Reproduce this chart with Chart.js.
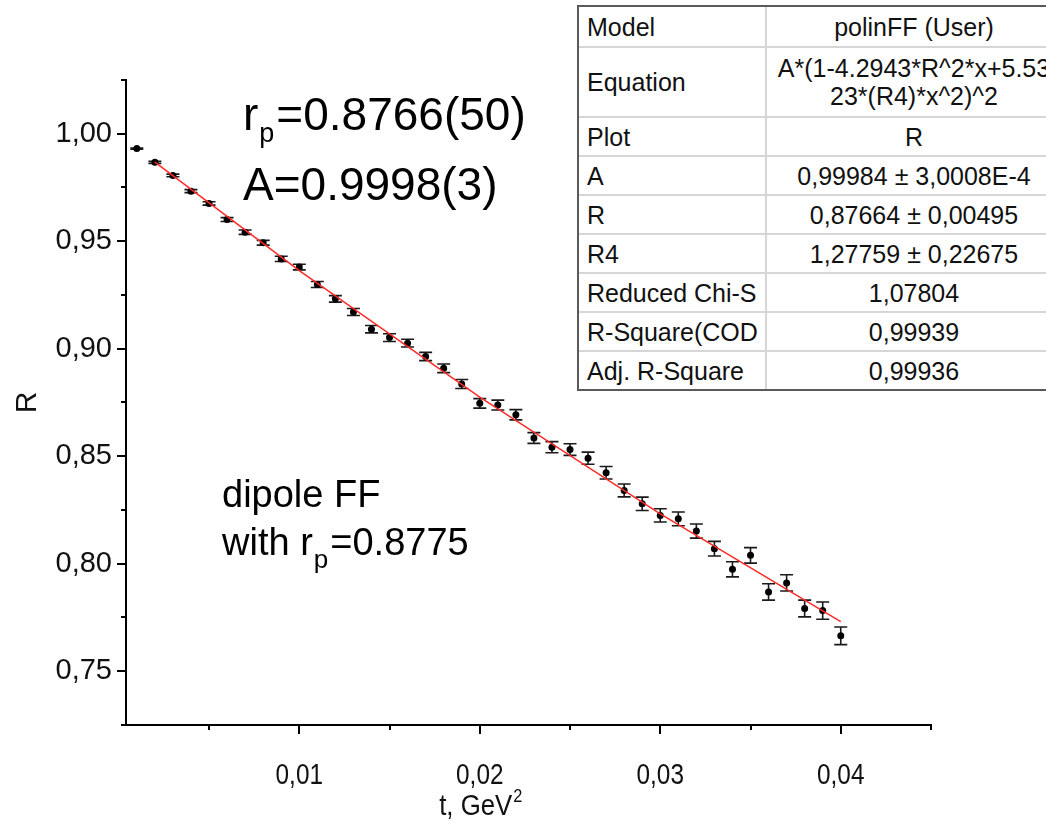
<!DOCTYPE html>
<html>
<head>
<meta charset="utf-8">
<script src="https://cdn.jsdelivr.net/npm/chart.js@4.4.0/dist/chart.umd.min.js"></script>
<style>
  html, body { margin: 0; padding: 0; background: #fff; }
  #wrap { position: relative; width: 1046px; height: 830px; overflow: hidden; }
  #fit {
    position: absolute; left: 577px; top: 5px; width: 486px; table-layout: fixed;
    border-collapse: separate; border-spacing: 0;
    border: 2px solid #5a5a5a; background: #fff;
    font-family: "Liberation Sans", Arial, sans-serif; font-size: 25px; color: #111;
  }
  #fit td { padding: 0 0 0 8px; height: 37px; white-space: nowrap; overflow: hidden; border-bottom: 2px solid #d6d6d6; line-height: 28px; }
  #fit tr:last-child td { border-bottom: none; }
  #fit td:first-child { width: 178px; border-right: 2px solid #d6d6d6; }
  #fit td:last-child { text-align: center; padding: 0; }
  #fit tr.head td { height: 39px; }
  #fit tr.eq td { height: 68px; }
</style>
</head>
<body>
<div id="wrap">
  <canvas id="chart" width="1046" height="830"></canvas>
  <table id="fit">
    <tr class="head"><td>Model</td><td>polinFF (User)</td></tr>
    <tr class="eq"><td>Equation</td><td>A*(1-4.2943*R^2*x+5.53<br>23*(R4)*x^2)^2</td></tr>
    <tr><td>Plot</td><td>R</td></tr>
    <tr><td>A</td><td>0,99984 ± 3,0008E-4</td></tr>
    <tr><td>R</td><td>0,87664 ± 0,00495</td></tr>
    <tr><td>R4</td><td>1,27759 ± 0,22675</td></tr>
    <tr><td>Reduced Chi-S</td><td>1,07804</td></tr>
    <tr><td>R-Square(COD</td><td>0,99939</td></tr>
    <tr><td>Adj. R-Square</td><td>0,99936</td></tr>
  </table>
</div>
<script>
// measured points: t (GeV^2), ratio R and its error
var tValues = [0.001, 0.002, 0.003, 0.004, 0.005, 0.006, 0.007, 0.008, 0.009, 0.010,
               0.011, 0.012, 0.013, 0.014, 0.015, 0.016, 0.017, 0.018, 0.019, 0.020,
               0.021, 0.022, 0.023, 0.024, 0.025, 0.026, 0.027, 0.028, 0.029, 0.030,
               0.031, 0.032, 0.033, 0.034, 0.035, 0.036, 0.037, 0.038, 0.039, 0.040];
var rValues = [0.9931, 0.9867, 0.9806, 0.9733, 0.9676, 0.9601, 0.9542, 0.9493, 0.9418, 0.9380,
               0.9299, 0.9232, 0.9171, 0.9091, 0.9052, 0.9026, 0.8964, 0.8909, 0.8836, 0.8746,
               0.8738, 0.8693, 0.8585, 0.8542, 0.8531, 0.8491, 0.8423, 0.8341, 0.8279, 0.8225,
               0.8209, 0.8152, 0.8070, 0.7974, 0.8039, 0.7869, 0.7911, 0.7792, 0.7782, 0.7665];
var rErrors = [0.0003, 0.0005, 0.0006, 0.0007, 0.0008, 0.0009, 0.0010, 0.0011, 0.0012, 0.0013,
               0.0014, 0.0015, 0.0016, 0.0017, 0.0018, 0.0018, 0.0019, 0.0020, 0.0021, 0.0022,
               0.0023, 0.0024, 0.0025, 0.0026, 0.0027, 0.0028, 0.0029, 0.0030, 0.0031, 0.0031,
               0.0032, 0.0033, 0.0034, 0.0035, 0.0036, 0.0038, 0.0038, 0.0039, 0.0040, 0.0041];

// fitted curve
var fitT = [0.002, 0.010, 0.020, 0.030, 0.040];
var fitR = [0.9868, 0.9363, 0.8775, 0.8232, 0.7731];

// axis ticks
var xMajor = [0.01, 0.02, 0.03, 0.04];
var xMinor = [0.005, 0.015, 0.025, 0.035, 0.045];
var yMajor = [0.75, 0.80, 0.85, 0.90, 0.95, 1.00];
var yMinor = [0.725, 0.775, 0.825, 0.875, 0.925, 0.975, 1.025];

var family = "'Liberation Sans', Arial, sans-serif";

function commaFmt(v) {
    return v.toFixed(2).replace('.', ',');
}

function points(xs, ys) {
    var out = [];
    for (var i = 0; i < xs.length; i++) {
        out.push({x: xs[i], y: ys[i]});
    }
    return out;
}

// Origin-style outward ticks, long for major and short for minor
var axisTicks = {
    id: 'axisTicks',
    afterDraw: function (chart) {
        var ctx = chart.ctx, xs = chart.scales.x, ys = chart.scales.y;
        var area = chart.chartArea;
        ctx.save();
        ctx.strokeStyle = '#000';
        ctx.lineWidth = 2;
        ctx.beginPath();
        xMajor.forEach(function (v) {
            var p = Math.round(xs.getPixelForValue(v));
            ctx.moveTo(p, area.bottom); ctx.lineTo(p, area.bottom + 9);
        });
        xMinor.forEach(function (v) {
            var p = Math.round(xs.getPixelForValue(v));
            ctx.moveTo(p, area.bottom); ctx.lineTo(p, area.bottom + 5);
        });
        yMajor.forEach(function (v) {
            var p = Math.round(ys.getPixelForValue(v));
            ctx.moveTo(area.left, p); ctx.lineTo(area.left - 9, p);
        });
        yMinor.forEach(function (v) {
            var p = Math.round(ys.getPixelForValue(v));
            ctx.moveTo(area.left, p); ctx.lineTo(area.left - 5, p);
        });
        ctx.stroke();

        // x labels and title in a condensed face, like the original plot
        ctx.fillStyle = '#111';
        ctx.textBaseline = 'middle';
        ctx.textAlign = 'center';
        ctx.font = '29px ' + family;
        xMajor.forEach(function (v) {
            var p = xs.getPixelForValue(v);
            ctx.save();
            ctx.translate(p, 776);
            ctx.scale(0.84, 1);
            ctx.fillText(commaFmt(v), 0, 0);
            ctx.restore();
        });
        ctx.save();
        ctx.translate(xs.getPixelForValue(0.02) - 4, 815);
        ctx.scale(0.86, 1);
        ctx.textBaseline = 'alphabetic';
        ctx.textAlign = 'center';
        ctx.font = '30px ' + family;
        ctx.fillText('t, GeV', 0, 0);
        var w = ctx.measureText('t, GeV').width;
        ctx.textAlign = 'left';
        ctx.font = '19px ' + family;
        ctx.fillText('2', w / 2 + 1, -13);
        ctx.restore();
        ctx.restore();
    }
};

// vertical error bars with caps
var errorBars = {
    id: 'errorBars',
    beforeDatasetsDraw: function (chart) {
        var ctx = chart.ctx, xs = chart.scales.x, ys = chart.scales.y;
        ctx.save();
        ctx.strokeStyle = '#1a1a1a';
        ctx.lineWidth = 1.6;
        ctx.beginPath();
        for (var i = 0; i < tValues.length; i++) {
            var px = xs.getPixelForValue(tValues[i]);
            var top = ys.getPixelForValue(rValues[i] + rErrors[i]);
            var bot = ys.getPixelForValue(rValues[i] - rErrors[i]);
            ctx.moveTo(px, top); ctx.lineTo(px, bot);
            ctx.moveTo(px - 6.5, top); ctx.lineTo(px + 6.5, top);
            ctx.moveTo(px - 6.5, bot); ctx.lineTo(px + 6.5, bot);
        }
        ctx.stroke();
        ctx.restore();
    }
};

function subText(ctx, pre, sub, post, x, y, size, subSize, drop) {
    ctx.font = size + 'px ' + family;
    ctx.fillText(pre, x, y);
    x += ctx.measureText(pre).width + 1;
    ctx.font = subSize + 'px ' + family;
    ctx.fillText(sub, x, y + drop);
    x += ctx.measureText(sub).width + 2;
    ctx.font = size + 'px ' + family;
    ctx.fillText(post, x, y);
}

var notes = {
    id: 'notes',
    afterDraw: function (chart) {
        var ctx = chart.ctx;
        ctx.save();
        ctx.fillStyle = '#000';
        ctx.textBaseline = 'alphabetic';
        ctx.textAlign = 'left';
        subText(ctx, 'r', 'p', '=0.8766(50)', 243, 130, 46, 27, 12);
        ctx.font = '46px ' + family;
        ctx.fillText('A=0.9998(3)', 243, 200);
        ctx.font = '38px ' + family;
        ctx.fillText('dipole FF', 222, 507);
        subText(ctx, 'with r', 'p', '=0.8775', 222, 555, 38, 26, 13);
        ctx.restore();
    }
};

new Chart(document.getElementById('chart'), {
    type: 'scatter',
    data: {
        datasets: [{
            data: points(fitT, fitR),
            showLine: true,
            borderColor: '#ff2a2a',
            borderWidth: 1.5,
            pointRadius: 0,
            fill: false
        }, {
            data: points(tValues, rValues),
            pointRadius: 3.5,
            pointBackgroundColor: '#000',
            pointBorderWidth: 0
        }]
    },
    options: {
        responsive: false,
        animation: false,
        layout: { padding: { top: 80, right: 115, left: 0, bottom: 0 } },
        plugins: { legend: { display: false }, tooltip: { enabled: false } },
        scales: {
            x: {
                type: 'linear',
                min: 0.0004,
                max: 0.045,
                afterFit: function (s) { s.height = 105; },
                afterBuildTicks: function (s) {
                    s.ticks = xMajor.map(function (v) { return {value: v}; });
                },
                grid: { display: true, drawOnChartArea: false, drawTicks: false },
                border: { display: true, color: '#000', width: 2 },
                ticks: { display: false }
            },
            y: {
                type: 'linear',
                min: 0.725,
                max: 1.025,
                afterFit: function (s) { s.width = 126; },
                afterBuildTicks: function (s) {
                    s.ticks = yMajor.map(function (v) { return {value: v}; });
                },
                grid: { display: true, drawOnChartArea: false, drawTicks: false },
                border: { display: true, color: '#000', width: 2 },
                ticks: {
                    padding: 14,
                    color: '#111',
                    font: { size: 29, family: family },
                    callback: function (v) { return commaFmt(v); }
                },
                title: {
                    display: true,
                    text: 'R',
                    color: '#111',
                    font: { size: 30, family: family },
                    padding: { top: 10 }
                }
            }
        }
    },
    plugins: [axisTicks, errorBars, notes]
});
</script>
</body>
</html>
